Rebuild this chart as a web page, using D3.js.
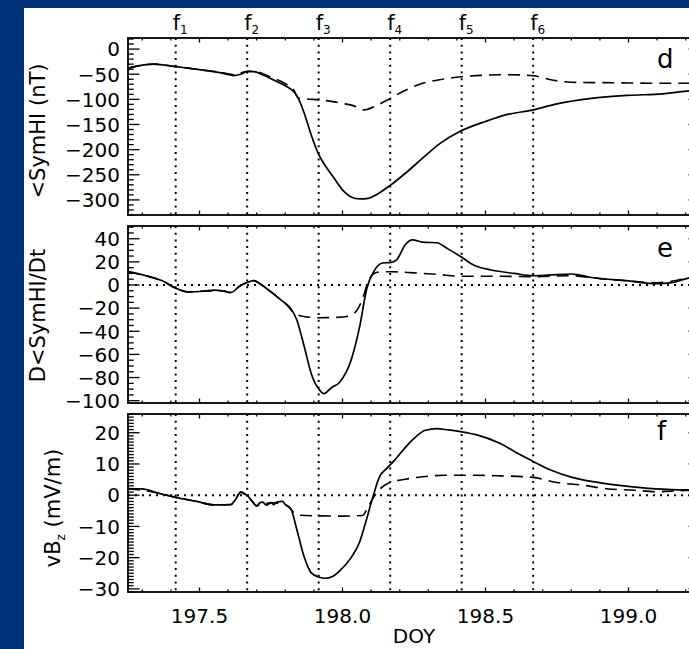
<!DOCTYPE html>
<html><head><meta charset="utf-8">
<script src="https://cdn.jsdelivr.net/npm/d3@7"></script>
<style>body{margin:0;background:#00337a;} svg{display:block}</style>
</head><body><svg id="c" width="689" height="649"></svg>
<script>
// ---------------- data ----------------
const xDomain = [197.25, 199.25];
const xTickValues = [197.5, 198.0, 198.5, 199.0];
const fTimes = [197.4167, 197.6667, 197.9167, 198.1667, 198.4167, 198.6667];
const fNames = ["1", "2", "3", "4", "5", "6"];

const dDomain = [-330, 22];
const dTicks = [0, -50, -100, -150, -200, -250, -300];
const eDomain = [-102, 51];
const eTicks = [40, 20, 0, -20, -40, -60, -80, -100];
const fDomain = [-31, 26];
const fTicks = [20, 10, 0, -10, -20, -30];

const dSolidT = [197.25,197.30,197.34,197.38,197.417,197.46,197.50,197.55,197.58,197.62,197.645,197.667,197.69,197.72,197.75,197.79,197.82,197.84,197.866,197.89,197.917,197.94,197.966,198.00,198.03,198.06,198.09,198.12,198.167,198.22,198.28,198.34,198.41,198.50,198.57,198.667,198.75,198.87,199.00,199.12,199.21,199.25];
const dSolidV = [-38,-32,-30,-32,-35,-38,-41,-45,-48,-53,-50,-45,-45,-51,-59,-70,-80,-92,-127,-170,-210,-232,-253,-280,-294,-298,-297,-289,-271,-247,-217,-188,-164,-144,-131,-121,-109,-98,-92,-89,-83,-80];
const dDashT = [197.25,197.34,197.417,197.50,197.58,197.62,197.667,197.69,197.75,197.80,197.83,197.845,197.87,197.917,197.96,198.00,198.04,198.075,198.12,198.167,198.22,198.27,198.34,198.417,198.50,198.58,198.667,198.72,198.80,198.95,199.10,199.25];
const dDashV = [-38,-30,-35,-41,-47,-51,-44,-44,-56,-69,-82,-97,-99,-101,-104,-108,-113,-121,-112,-98,-82,-70,-61,-55,-52,-51,-53,-60,-66,-67,-68,-68];

const eSolidT = [197.25,197.32,197.37,197.417,197.46,197.52,197.55,197.58,197.61,197.64,197.67,197.69,197.715,197.75,197.79,197.815,197.84,197.866,197.89,197.917,197.935,197.96,197.99,198.03,198.06,198.085,198.11,198.14,198.17,198.19,198.22,198.245,198.28,198.33,198.37,198.417,198.46,198.52,198.60,198.667,198.72,198.80,198.87,199.00,199.10,199.15,199.21,199.25];
const eSolidV = [11.5,7.5,3.6,-2.8,-6,-5.2,-4.5,-5,-6.5,-1,2.5,3.8,0.5,-6,-14,-19,-30,-53,-76,-90,-94,-89,-84,-65,-36,-3,12,19,19.5,22,35,39,37,36.5,31,24,17,13,10,8,8.5,9.5,6.5,3.5,1.2,2,6,7.5];
const eDashT = [197.25,197.32,197.37,197.417,197.46,197.52,197.58,197.61,197.64,197.67,197.69,197.715,197.75,197.79,197.80,197.83,197.86,197.917,197.98,198.02,198.05,198.07,198.09,198.11,198.14,198.17,198.25,198.33,198.417,198.55,198.667,198.80,198.90,199.00,199.10,199.21,199.25];
const eDashV = [11.5,7.5,3.6,-2.8,-6,-5.2,-5,-6.5,-1,2.5,3.8,0.5,-6,-14,-16,-24,-27,-28.3,-28,-27,-22,-12,3,10,11.5,11.5,10.5,9.2,7.5,7.5,7.2,8,5.5,3.5,2,5.8,7];

const fSolidT = [197.25,197.30,197.35,197.417,197.49,197.55,197.61,197.625,197.645,197.655,197.667,197.685,197.70,197.71,197.72,197.735,197.75,197.76,197.77,197.79,197.80,197.82,197.84,197.865,197.89,197.917,197.94,197.965,197.99,198.03,198.06,198.08,198.105,198.13,198.155,198.18,198.22,198.25,198.29,198.33,198.37,198.417,198.47,198.55,198.62,198.667,198.73,198.80,198.87,198.96,199.07,199.15,199.25];
const fSolidV = [2.1,2,0.8,-0.7,-2,-3.1,-3,-1.5,1,0.5,-0.1,-2,-3.5,-2.5,-2.2,-3.2,-2.4,-3,-2.2,-2,-3,-4.5,-10.9,-19.5,-24.8,-26.2,-26.6,-26,-24.2,-20,-15,-9,-1,6,8.6,11,15.3,18.2,20.8,21.3,20.9,20.3,19.3,16.6,13,10.8,8,5.8,4.4,3.2,2.2,1.8,1.7];
const fDashT = [197.25,197.35,197.417,197.49,197.55,197.61,197.645,197.667,197.70,197.75,197.80,197.82,197.84,197.90,198.00,198.07,198.09,198.105,198.13,198.16,198.22,198.28,198.36,198.45,198.55,198.667,198.74,198.84,198.93,199.02,199.10,199.20,199.25];
const fDashV = [2.1,0.8,-0.7,-2,-3.1,-3,1,-0.1,-3.3,-2.4,-3,-4.5,-6.3,-6.6,-6.7,-6.5,-3.7,-1.2,1.9,3.8,5.1,5.9,6.4,6.4,6.2,5.7,4.2,3.2,2,1.6,1.1,1.5,1.5];

// ---------------- layout ----------------
const W = 689, H = 649, X0 = 128, X1 = 700;
const FONT = "'DejaVu Sans', sans-serif";
const panels = [
  {top: 38, bottom: 215, domain: dDomain, ticks: dTicks, minorStep: 10,
   solid: d3.zip(dSolidT, dSolidV), dash: d3.zip(dDashT, dDashV), zero: false,
   letter: "d", letterY: 68, titleX: 45, titleY: 131},
  {top: 226, bottom: 403, domain: eDomain, ticks: eTicks, minorStep: 5,
   solid: d3.zip(eSolidT, eSolidV), dash: d3.zip(eDashT, eDashV), zero: true,
   letter: "e", letterY: 257, titleX: 45, titleY: 315.5},
  {top: 414, bottom: 592, domain: fDomain, ticks: fTicks, minorStep: 1,
   solid: d3.zip(fSolidT, fSolidV), dash: d3.zip(fDashT, fDashV), zero: true,
   letter: "f", letterY: 440, titleX: 60, titleY: 508}
];

const svg = d3.select("#c");
svg.append("rect").attr("width", W).attr("height", H).attr("fill", "#00337a");
svg.append("rect").attr("x", 24).attr("y", 8).attr("width", W - 24).attr("height", H - 8).attr("fill", "#fff");

const x = d3.scaleLinear().domain(xDomain).range([X0, X1]);
const fmtY = v => (v < 0 ? "\u2212" + Math.abs(v) : String(v));
const xMinor = d3.range(19730, 19925, 10).map(v => v / 100);

panels.forEach((p, i) => {
  const y = d3.scaleLinear().domain(p.domain).range([p.bottom, p.top]);
  const g = svg.append("g");
  const clipId = "clip" + i;
  svg.append("clipPath").attr("id", clipId).append("rect")
    .attr("x", X0).attr("y", p.top).attr("width", X1 - X0).attr("height", p.bottom - p.top);

  fTimes.forEach(t => {
    g.append("line").attr("x1", x(t)).attr("x2", x(t)).attr("y1", p.top).attr("y2", p.bottom)
      .attr("stroke", "#000").attr("stroke-width", 2).attr("stroke-dasharray", "2,4.7");
  });
  if (p.zero) {
    g.append("line").attr("x1", X0).attr("x2", X1).attr("y1", y(0)).attr("y2", y(0))
      .attr("stroke", "#000").attr("stroke-width", 2).attr("stroke-dasharray", "2,5");
  }

  const line = d3.line().x(d => x(d[0])).y(d => y(d[1])).curve(d3.curveMonotoneX);
  g.append("path").datum(p.dash).attr("d", line).attr("fill", "none")
    .attr("stroke", "#000").attr("stroke-width", 1.6).attr("stroke-dasharray", "12,7")
    .attr("clip-path", `url(#${clipId})`);
  g.append("path").datum(p.solid).attr("d", line).attr("fill", "none")
    .attr("stroke", "#000").attr("stroke-width", 1.7).attr("stroke-linejoin", "round")
    .attr("clip-path", `url(#${clipId})`);

  g.append("rect").attr("x", X0).attr("y", p.top).attr("width", X1 - X0).attr("height", p.bottom - p.top)
    .attr("fill", "none").attr("stroke", "#000").attr("stroke-width", 1.8);

  const lo = Math.ceil(p.domain[0] / p.minorStep), hi = Math.floor(p.domain[1] / p.minorStep);
  d3.range(lo, hi + 1).map(k => k * p.minorStep).forEach(v => {
    const major = p.ticks.includes(v);
    const len = major ? 11.5 : 5.7;
    const yy = y(v);
    g.append("line").attr("x1", X0).attr("x2", X0 + len).attr("y1", yy).attr("y2", yy)
      .attr("stroke", "#000").attr("stroke-width", 1.3);
    g.append("line").attr("x1", X1).attr("x2", X1 - len).attr("y1", yy).attr("y2", yy)
      .attr("stroke", "#000").attr("stroke-width", 1.3);
  });
  p.ticks.forEach(v => {
    g.append("text").attr("x", 120).attr("y", y(v) + 7.3).attr("text-anchor", "end")
      .attr("font-family", FONT).attr("font-size", 20).attr("fill", "#000").text(fmtY(v));
  });

  xMinor.forEach(t => {
    const major = xTickValues.some(m => Math.abs(m - t) < 1e-6);
    const len = major ? 4.5 : 2.5;
    g.append("line").attr("x1", x(t)).attr("x2", x(t)).attr("y1", p.top).attr("y2", p.top + len)
      .attr("stroke", "#000").attr("stroke-width", 1.3);
    g.append("line").attr("x1", x(t)).attr("x2", x(t)).attr("y1", p.bottom).attr("y2", p.bottom - len)
      .attr("stroke", "#000").attr("stroke-width", 1.3);
  });

  g.append("text").attr("x", 657).attr("y", p.letterY).attr("font-family", FONT)
    .attr("font-size", 26).attr("fill", "#000").text(p.letter);
});

svg.append("text").attr("transform", `translate(${panels[0].titleX},${panels[0].titleY}) rotate(-90)`)
  .attr("text-anchor", "middle").attr("font-family", FONT).attr("font-size", 21).text("<SymHI (nT)");
svg.append("text").attr("transform", `translate(${panels[1].titleX},${panels[1].titleY}) rotate(-90)`)
  .attr("text-anchor", "middle").attr("font-family", FONT).attr("font-size", 21).text("D<SymHI/Dt");
const t3 = svg.append("text").attr("transform", `translate(${panels[2].titleX},${panels[2].titleY}) rotate(-90)`)
  .attr("text-anchor", "middle").attr("font-family", FONT).attr("font-size", 21);
t3.append("tspan").text("vB");
t3.append("tspan").attr("font-size", 12).attr("dy", 5).text("z");
t3.append("tspan").attr("dy", -5).text("\u00a0(mV/m)");

fTimes.forEach((t, i) => {
  const tx = svg.append("text").attr("x", x(t) - 3).attr("y", 30).attr("font-family", FONT)
    .attr("font-size", 21).attr("fill", "#000");
  tx.append("tspan").text("f");
  tx.append("tspan").attr("font-size", 12).attr("dy", 4).text(fNames[i]);
});

xTickValues.forEach(v => {
  svg.append("text").attr("x", x(v)).attr("y", 623).attr("text-anchor", "middle")
    .attr("font-family", FONT).attr("font-size", 20).attr("fill", "#000").text(v.toFixed(1));
});
svg.append("text").attr("x", (X0 + X1) / 2).attr("y", 643).attr("text-anchor", "middle")
  .attr("font-family", FONT).attr("font-size", 20).attr("fill", "#000").text("DOY");
</script></body></html>
